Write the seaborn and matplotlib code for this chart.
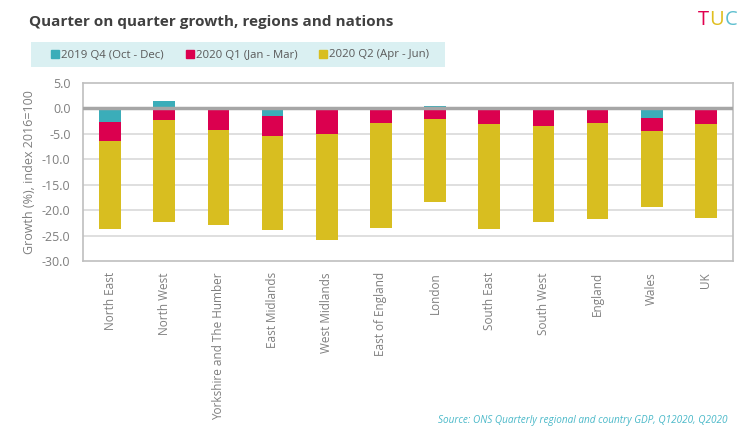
import numpy as np
import pandas as pd
import seaborn as sns
import matplotlib.pyplot as plt
from matplotlib.lines import Line2D
from matplotlib.patches import Rectangle

regions = ['North East', 'North West', 'Yorkshire and The Humber', 'East Midlands',
           'West Midlands', 'East of England', 'London', 'South East', 'South West',
           'England', 'Wales', 'UK']
q4_2019 = [-2.6, 1.4, -0.1, -1.5, -0.1, -0.1, 0.4, -0.1, -0.1, -0.1, -1.9, -0.1]
q1_2020 = [-3.8, -2.2, -4.2, -3.9, -4.9, -2.7, -2.0, -3.0, -3.3, -2.8, -2.5, -2.9]
q2_2020 = [-17.3, -20.1, -18.6, -18.6, -20.8, -20.7, -16.4, -20.6, -18.9, -18.8, -14.9, -18.6]
series = ['2019 Q4 (Oct - Dec)', '2020 Q1 (Jan - Mar)', '2020 Q2 (Apr - Jun)']
colors = ['#3BADB9', '#DB004F', '#D8BE20']

sns.set_style('white')
plt.rcParams['font.family'] = ['Open Sans', 'DejaVu Sans']

df = pd.DataFrame({'region': regions, 'q4': q4_2019, 'q1': q1_2020, 'q2': q2_2020})
# stack: positive Q4 goes up, negatives pile downwards
b_q4 = np.zeros(len(df))
b_q1 = np.minimum(df.q4.values, 0)
b_q2 = b_q1 + df.q1.values

fig = plt.figure(figsize=(7.5, 4.33), dpi=100)
ax = fig.add_axes([83 / 750, 1 - 261 / 433, 650 / 750, 178 / 433])

for col, bot, c in zip(['q4', 'q1', 'q2'], [b_q4, b_q1, b_q2], colors):
    sns.barplot(data=df, x='region', y=col, order=regions, color=c, bottom=bot,
                width=0.4, saturation=1, edgecolor='none', ax=ax, zorder=3)

ax.set_ylim(-30, 5)
ax.set_xlim(-0.5, len(regions) - 0.5)
ax.set_yticks(np.arange(-30, 5.1, 5))
ax.set_yticklabels([f'{v:.1f}' for v in np.arange(-30, 5.1, 5)])
for v in np.arange(-25, 5, 5):
    ax.axhline(v, color='#D9D9D9', lw=1.2, zorder=1)
ax.axhline(0, color='#A6A6A6', lw=2.5, zorder=4)
for s in ax.spines.values():
    s.set_color('#BFBFBF')
    s.set_linewidth(1.2)
ax.tick_params(axis='both', length=0, colors='#7F7F7F', labelsize=9)
ax.tick_params(axis='y', pad=9)
ax.tick_params(axis='x', pad=8, labelsize=8.5)
plt.setp(ax.get_xticklabels(), rotation=90, va='top', ha='center')
ax.set_xlabel('')
ax.set_ylabel('Growth (%), index 2016=100', color='#7F7F7F', fontsize=9, labelpad=4)

fig.text(29 / 750, 1 - 22 / 433, 'Quarter on quarter growth, regions and nations',
         fontsize=11, fontweight='bold', color='#404040', va='center', ha='left')

fig.patches.append(Rectangle((31 / 750, 1 - 67 / 433), 414 / 750, 25 / 433,
                             transform=fig.transFigure, facecolor='#DAF0F2',
                             edgecolor='none', zorder=0))
handles = [Line2D([], [], marker='s', ls='none', color=c, markersize=5.5) for c in colors]
fig.legend(handles, series, loc='center', bbox_to_anchor=(240 / 750, 1 - 55 / 433),
           ncol=3, frameon=False, fontsize=8.2, labelcolor='#595959',
           handletextpad=0.1, columnspacing=1.9, handlelength=0.8)

# TUC logo, letters placed one after another
fig.canvas.draw()
r = fig.canvas.get_renderer()
x = 698
for letter, c in zip('TUC', ['#E1004F', '#E0BE1E', '#5EBFCF']):
    t = fig.text(x / 750, 1 - 20 / 433, letter, fontsize=14.5, color=c, ha='left',
                 va='center')
    x += t.get_window_extent(r).width + 0.3

fig.text(727 / 750, 1 - 421 / 433,
         'Source: ONS Quarterly regional and country GDP, Q12020, Q2020',
         fontsize=7.2, style='italic', color='#4BB9C9', ha='right', va='center')

fig.savefig('out.png', dpi=100)
